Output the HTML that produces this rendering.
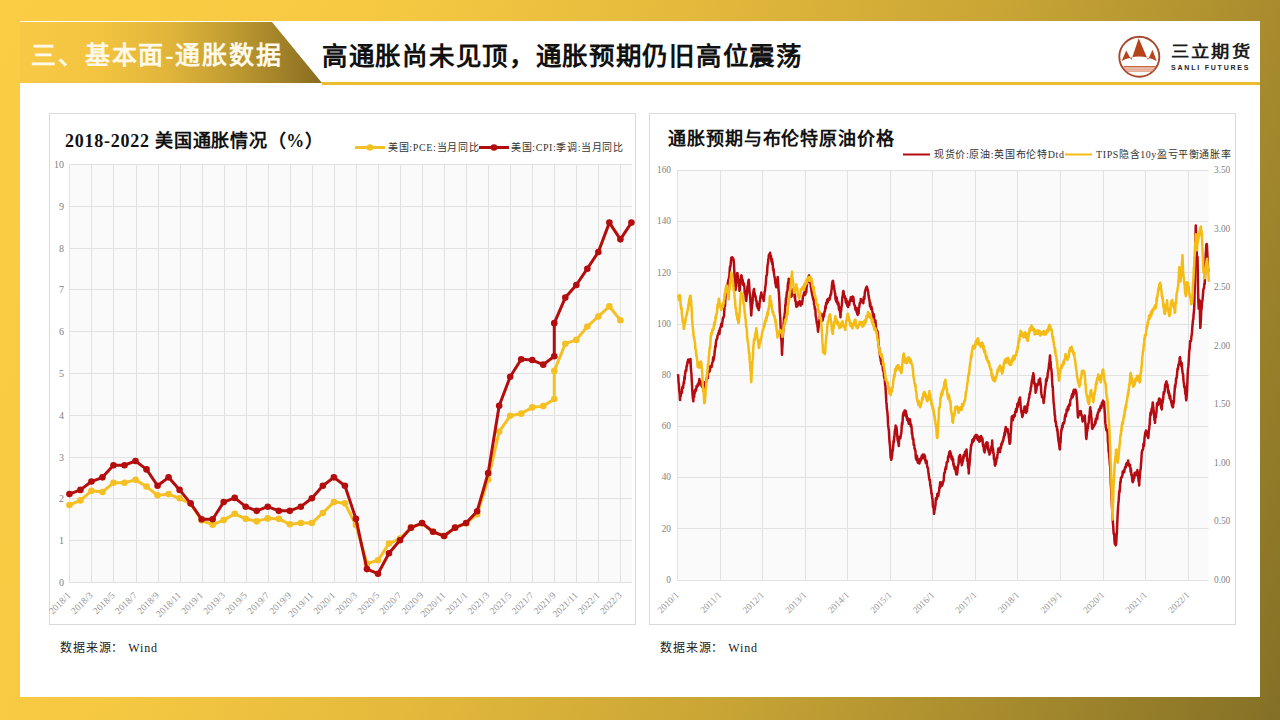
<!DOCTYPE html>
<html lang="zh-CN">
<head>
<meta charset="utf-8">
<style>
*{margin:0;padding:0;box-sizing:border-box}
html,body{width:1280px;height:720px;overflow:hidden}
body{position:relative;font-family:"Liberation Serif",serif;
 background:linear-gradient(112deg,#fbcd45 0%,#f8c942 20%,#f5c842 26%,#e4b93c 44%,#c9a535 64%,#a78b2d 82%,#847026 100%);}
#panel{position:absolute;left:20px;top:21px;width:1240px;height:676px;background:#fff}
#hdr{position:absolute;left:20px;top:22px;width:302px;height:61px;
 clip-path:polygon(0 0,252px 0,302px 61px,0 61px);
 background:linear-gradient(90deg,#f9c945 0%,#f2c43f 26.5%,#e0b43a 50%,#c09c32 70%,#a58429 85%,#876b20 100%)}
#hline{position:absolute;left:322px;top:82px;width:938px;height:3px;background:#ecbb30}
.frame{position:absolute;top:113px;width:587px;height:512px;border:1px solid #d9d9d9;background:#fff}
#f1{left:49px}
#f2{left:649px}
svg{position:absolute;left:0;top:0}
text{font-family:"Liberation Serif",serif}
</style>
</head>
<body>
<div id="panel"></div>
<div id="hdr"></div>
<div id="hline"></div>
<div class="frame" id="f1"></div>
<div class="frame" id="f2"></div>
<svg width="1280" height="720" viewBox="0 0 1280 720">
<g id="logo">
 <circle cx="1139.3" cy="56.7" r="20" fill="none" stroke="#a8482a" stroke-width="1.9"/>
 <path d="M1121.6 61 L1126.2 50.5 L1131.4 60 L1138.7 38.3 L1148 60 L1152.5 49.7 L1156.7 61 Q1139 52 1121.6 61 Z" fill="#b5441c"/>
 <rect x="1123.7" y="66" width="32" height="1.5" fill="#c8673f"/>
 <rect x="1124.5" y="68.5" width="30.5" height="1.1" fill="#d27a55"/>
 <rect x="1125.8" y="70.5" width="28" height="1.1" fill="#d27a55"/>
</g>
<g id="c1">
<rect x="69.4" y="164.5" width="562.6" height="417.9" fill="#fafafa"/>
<path d="M69.4 582.5H632 M69.4 540.5H632 M69.4 498.5H632 M69.4 457.5H632 M69.4 415.5H632 M69.4 373.5H632 M69.4 331.5H632 M69.4 289.5H632 M69.4 248.5H632 M69.4 206.5H632 M69.4 164.5H632 M69.5 164.5V582.4 M91.5 164.5V582.4 M113.5 164.5V582.4 M136.5 164.5V582.4 M158.5 164.5V582.4 M180.5 164.5V582.4 M202.5 164.5V582.4 M224.5 164.5V582.4 M246.5 164.5V582.4 M268.5 164.5V582.4 M290.5 164.5V582.4 M312.5 164.5V582.4 M334.5 164.5V582.4 M356.5 164.5V582.4 M378.5 164.5V582.4 M400.5 164.5V582.4 M422.5 164.5V582.4 M444.5 164.5V582.4 M466.5 164.5V582.4 M488.5 164.5V582.4 M510.5 164.5V582.4 M532.5 164.5V582.4 M554.5 164.5V582.4 M576.5 164.5V582.4 M598.5 164.5V582.4 M620.5 164.5V582.4" stroke="#e1e1e1" stroke-width="1" fill="none"/>
<text x="64" y="585.9" font-size="10" fill="#7f7f7f" text-anchor="end">0</text>
<text x="64" y="544.11" font-size="10" fill="#7f7f7f" text-anchor="end">1</text>
<text x="64" y="502.32" font-size="10" fill="#7f7f7f" text-anchor="end">2</text>
<text x="64" y="460.53" font-size="10" fill="#7f7f7f" text-anchor="end">3</text>
<text x="64" y="418.74" font-size="10" fill="#7f7f7f" text-anchor="end">4</text>
<text x="64" y="376.95" font-size="10" fill="#7f7f7f" text-anchor="end">5</text>
<text x="64" y="335.16" font-size="10" fill="#7f7f7f" text-anchor="end">6</text>
<text x="64" y="293.37" font-size="10" fill="#7f7f7f" text-anchor="end">7</text>
<text x="64" y="251.58" font-size="10" fill="#7f7f7f" text-anchor="end">8</text>
<text x="64" y="209.79" font-size="10" fill="#7f7f7f" text-anchor="end">9</text>
<text x="64" y="168" font-size="10" fill="#7f7f7f" text-anchor="end">10</text>
<text transform="translate(71.4,596) rotate(-45)" font-size="9.5" fill="#959595" text-anchor="end">2018/1</text>
<text transform="translate(93.44,596) rotate(-45)" font-size="9.5" fill="#959595" text-anchor="end">2018/3</text>
<text transform="translate(115.48,596) rotate(-45)" font-size="9.5" fill="#959595" text-anchor="end">2018/5</text>
<text transform="translate(137.52,596) rotate(-45)" font-size="9.5" fill="#959595" text-anchor="end">2018/7</text>
<text transform="translate(159.56,596) rotate(-45)" font-size="9.5" fill="#959595" text-anchor="end">2018/9</text>
<text transform="translate(181.6,596) rotate(-45)" font-size="9.5" fill="#959595" text-anchor="end">2018/11</text>
<text transform="translate(203.64,596) rotate(-45)" font-size="9.5" fill="#959595" text-anchor="end">2019/1</text>
<text transform="translate(225.68,596) rotate(-45)" font-size="9.5" fill="#959595" text-anchor="end">2019/3</text>
<text transform="translate(247.72,596) rotate(-45)" font-size="9.5" fill="#959595" text-anchor="end">2019/5</text>
<text transform="translate(269.76,596) rotate(-45)" font-size="9.5" fill="#959595" text-anchor="end">2019/7</text>
<text transform="translate(291.8,596) rotate(-45)" font-size="9.5" fill="#959595" text-anchor="end">2019/9</text>
<text transform="translate(313.84,596) rotate(-45)" font-size="9.5" fill="#959595" text-anchor="end">2019/11</text>
<text transform="translate(335.88,596) rotate(-45)" font-size="9.5" fill="#959595" text-anchor="end">2020/1</text>
<text transform="translate(357.92,596) rotate(-45)" font-size="9.5" fill="#959595" text-anchor="end">2020/3</text>
<text transform="translate(379.96,596) rotate(-45)" font-size="9.5" fill="#959595" text-anchor="end">2020/5</text>
<text transform="translate(402,596) rotate(-45)" font-size="9.5" fill="#959595" text-anchor="end">2020/7</text>
<text transform="translate(424.04,596) rotate(-45)" font-size="9.5" fill="#959595" text-anchor="end">2020/9</text>
<text transform="translate(446.08,596) rotate(-45)" font-size="9.5" fill="#959595" text-anchor="end">2020/11</text>
<text transform="translate(468.12,596) rotate(-45)" font-size="9.5" fill="#959595" text-anchor="end">2021/1</text>
<text transform="translate(490.16,596) rotate(-45)" font-size="9.5" fill="#959595" text-anchor="end">2021/3</text>
<text transform="translate(512.2,596) rotate(-45)" font-size="9.5" fill="#959595" text-anchor="end">2021/5</text>
<text transform="translate(534.24,596) rotate(-45)" font-size="9.5" fill="#959595" text-anchor="end">2021/7</text>
<text transform="translate(556.28,596) rotate(-45)" font-size="9.5" fill="#959595" text-anchor="end">2021/9</text>
<text transform="translate(578.32,596) rotate(-45)" font-size="9.5" fill="#959595" text-anchor="end">2021/11</text>
<text transform="translate(600.36,596) rotate(-45)" font-size="9.5" fill="#959595" text-anchor="end">2022/1</text>
<text transform="translate(622.4,596) rotate(-45)" font-size="9.5" fill="#959595" text-anchor="end">2022/3</text>
<polyline points="69.4,505 80.42,500.4 91.44,490.76 102.46,492.02 113.48,482.8 124.5,482.8 135.52,479.86 146.54,486.57 157.56,495.37 168.58,494.11 179.6,498.3 190.62,503.75 201.64,520.51 212.66,524.7 223.68,520.09 234.7,513.8 245.72,518.83 256.74,521.35 267.76,518.41 278.78,518.83 289.8,524.28 300.82,523.02 311.84,523.02 322.86,512.97 333.88,502.07 344.9,503.33 355.92,525.12 366.94,563.66 377.96,560.31 388.98,543.55 400,538.52 411.02,527.63 422.04,523.44 433.06,531.82 444.08,536.01 455.1,527.63 466.12,523.44 477.14,514.22 488.16,479.45 499.18,431.68 510.2,415.76 521.22,413.66 532.24,407.38 543.26,406.12 554.28,399 554.28,370.92 565.3,343.69 576.32,339.92 587.34,326.51 598.36,316.45 609.38,306.4 620.4,320.23" fill="none" stroke="#f4c023" stroke-width="3" stroke-linejoin="round"/>
<circle cx="69.4" cy="505" r="3.3" fill="#f4c023"/><circle cx="80.42" cy="500.4" r="3.3" fill="#f4c023"/><circle cx="91.44" cy="490.76" r="3.3" fill="#f4c023"/><circle cx="102.46" cy="492.02" r="3.3" fill="#f4c023"/><circle cx="113.48" cy="482.8" r="3.3" fill="#f4c023"/><circle cx="124.5" cy="482.8" r="3.3" fill="#f4c023"/><circle cx="135.52" cy="479.86" r="3.3" fill="#f4c023"/><circle cx="146.54" cy="486.57" r="3.3" fill="#f4c023"/><circle cx="157.56" cy="495.37" r="3.3" fill="#f4c023"/><circle cx="168.58" cy="494.11" r="3.3" fill="#f4c023"/><circle cx="179.6" cy="498.3" r="3.3" fill="#f4c023"/><circle cx="190.62" cy="503.75" r="3.3" fill="#f4c023"/><circle cx="201.64" cy="520.51" r="3.3" fill="#f4c023"/><circle cx="212.66" cy="524.7" r="3.3" fill="#f4c023"/><circle cx="223.68" cy="520.09" r="3.3" fill="#f4c023"/><circle cx="234.7" cy="513.8" r="3.3" fill="#f4c023"/><circle cx="245.72" cy="518.83" r="3.3" fill="#f4c023"/><circle cx="256.74" cy="521.35" r="3.3" fill="#f4c023"/><circle cx="267.76" cy="518.41" r="3.3" fill="#f4c023"/><circle cx="278.78" cy="518.83" r="3.3" fill="#f4c023"/><circle cx="289.8" cy="524.28" r="3.3" fill="#f4c023"/><circle cx="300.82" cy="523.02" r="3.3" fill="#f4c023"/><circle cx="311.84" cy="523.02" r="3.3" fill="#f4c023"/><circle cx="322.86" cy="512.97" r="3.3" fill="#f4c023"/><circle cx="333.88" cy="502.07" r="3.3" fill="#f4c023"/><circle cx="344.9" cy="503.33" r="3.3" fill="#f4c023"/><circle cx="355.92" cy="525.12" r="3.3" fill="#f4c023"/><circle cx="366.94" cy="563.66" r="3.3" fill="#f4c023"/><circle cx="377.96" cy="560.31" r="3.3" fill="#f4c023"/><circle cx="388.98" cy="543.55" r="3.3" fill="#f4c023"/><circle cx="400" cy="538.52" r="3.3" fill="#f4c023"/><circle cx="411.02" cy="527.63" r="3.3" fill="#f4c023"/><circle cx="422.04" cy="523.44" r="3.3" fill="#f4c023"/><circle cx="433.06" cy="531.82" r="3.3" fill="#f4c023"/><circle cx="444.08" cy="536.01" r="3.3" fill="#f4c023"/><circle cx="455.1" cy="527.63" r="3.3" fill="#f4c023"/><circle cx="466.12" cy="523.44" r="3.3" fill="#f4c023"/><circle cx="477.14" cy="514.22" r="3.3" fill="#f4c023"/><circle cx="488.16" cy="479.45" r="3.3" fill="#f4c023"/><circle cx="499.18" cy="431.68" r="3.3" fill="#f4c023"/><circle cx="510.2" cy="415.76" r="3.3" fill="#f4c023"/><circle cx="521.22" cy="413.66" r="3.3" fill="#f4c023"/><circle cx="532.24" cy="407.38" r="3.3" fill="#f4c023"/><circle cx="543.26" cy="406.12" r="3.3" fill="#f4c023"/><circle cx="554.28" cy="399" r="3.3" fill="#f4c023"/><circle cx="554.28" cy="370.92" r="3.3" fill="#f4c023"/><circle cx="565.3" cy="343.69" r="3.3" fill="#f4c023"/><circle cx="576.32" cy="339.92" r="3.3" fill="#f4c023"/><circle cx="587.34" cy="326.51" r="3.3" fill="#f4c023"/><circle cx="598.36" cy="316.45" r="3.3" fill="#f4c023"/><circle cx="609.38" cy="306.4" r="3.3" fill="#f4c023"/><circle cx="620.4" cy="320.23" r="3.3" fill="#f4c023"/>
<polyline points="69.4,494.11 80.42,489.92 91.44,481.54 102.46,477.35 113.48,465.2 124.5,465.2 135.52,461.01 146.54,469.39 157.56,485.73 168.58,477.35 179.6,489.92 190.62,503.33 201.64,519.25 212.66,519.25 223.68,502.07 234.7,497.88 245.72,506.68 256.74,510.87 267.76,506.68 278.78,510.87 289.8,510.87 300.82,506.68 311.84,498.3 322.86,485.73 333.88,477.35 344.9,485.73 355.92,518.83 366.94,569.11 377.96,573.72 388.98,553.19 400,540.2 411.02,527.63 422.04,523.02 433.06,531.82 444.08,536.01 455.1,527.63 466.12,523.02 477.14,511.29 488.16,473.16 499.18,405.7 510.2,376.79 521.22,359.19 532.24,360.03 543.26,364.64 554.28,356.26 554.28,323.16 565.3,297.6 576.32,285.03 587.34,268.69 598.36,251.93 609.38,222.6 620.4,239.36 631.42,222.6" fill="none" stroke="#b30d0d" stroke-width="3" stroke-linejoin="round"/>
<circle cx="69.4" cy="494.11" r="3.3" fill="#b30d0d"/><circle cx="80.42" cy="489.92" r="3.3" fill="#b30d0d"/><circle cx="91.44" cy="481.54" r="3.3" fill="#b30d0d"/><circle cx="102.46" cy="477.35" r="3.3" fill="#b30d0d"/><circle cx="113.48" cy="465.2" r="3.3" fill="#b30d0d"/><circle cx="124.5" cy="465.2" r="3.3" fill="#b30d0d"/><circle cx="135.52" cy="461.01" r="3.3" fill="#b30d0d"/><circle cx="146.54" cy="469.39" r="3.3" fill="#b30d0d"/><circle cx="157.56" cy="485.73" r="3.3" fill="#b30d0d"/><circle cx="168.58" cy="477.35" r="3.3" fill="#b30d0d"/><circle cx="179.6" cy="489.92" r="3.3" fill="#b30d0d"/><circle cx="190.62" cy="503.33" r="3.3" fill="#b30d0d"/><circle cx="201.64" cy="519.25" r="3.3" fill="#b30d0d"/><circle cx="212.66" cy="519.25" r="3.3" fill="#b30d0d"/><circle cx="223.68" cy="502.07" r="3.3" fill="#b30d0d"/><circle cx="234.7" cy="497.88" r="3.3" fill="#b30d0d"/><circle cx="245.72" cy="506.68" r="3.3" fill="#b30d0d"/><circle cx="256.74" cy="510.87" r="3.3" fill="#b30d0d"/><circle cx="267.76" cy="506.68" r="3.3" fill="#b30d0d"/><circle cx="278.78" cy="510.87" r="3.3" fill="#b30d0d"/><circle cx="289.8" cy="510.87" r="3.3" fill="#b30d0d"/><circle cx="300.82" cy="506.68" r="3.3" fill="#b30d0d"/><circle cx="311.84" cy="498.3" r="3.3" fill="#b30d0d"/><circle cx="322.86" cy="485.73" r="3.3" fill="#b30d0d"/><circle cx="333.88" cy="477.35" r="3.3" fill="#b30d0d"/><circle cx="344.9" cy="485.73" r="3.3" fill="#b30d0d"/><circle cx="355.92" cy="518.83" r="3.3" fill="#b30d0d"/><circle cx="366.94" cy="569.11" r="3.3" fill="#b30d0d"/><circle cx="377.96" cy="573.72" r="3.3" fill="#b30d0d"/><circle cx="388.98" cy="553.19" r="3.3" fill="#b30d0d"/><circle cx="400" cy="540.2" r="3.3" fill="#b30d0d"/><circle cx="411.02" cy="527.63" r="3.3" fill="#b30d0d"/><circle cx="422.04" cy="523.02" r="3.3" fill="#b30d0d"/><circle cx="433.06" cy="531.82" r="3.3" fill="#b30d0d"/><circle cx="444.08" cy="536.01" r="3.3" fill="#b30d0d"/><circle cx="455.1" cy="527.63" r="3.3" fill="#b30d0d"/><circle cx="466.12" cy="523.02" r="3.3" fill="#b30d0d"/><circle cx="477.14" cy="511.29" r="3.3" fill="#b30d0d"/><circle cx="488.16" cy="473.16" r="3.3" fill="#b30d0d"/><circle cx="499.18" cy="405.7" r="3.3" fill="#b30d0d"/><circle cx="510.2" cy="376.79" r="3.3" fill="#b30d0d"/><circle cx="521.22" cy="359.19" r="3.3" fill="#b30d0d"/><circle cx="532.24" cy="360.03" r="3.3" fill="#b30d0d"/><circle cx="543.26" cy="364.64" r="3.3" fill="#b30d0d"/><circle cx="554.28" cy="356.26" r="3.3" fill="#b30d0d"/><circle cx="554.28" cy="323.16" r="3.3" fill="#b30d0d"/><circle cx="565.3" cy="297.6" r="3.3" fill="#b30d0d"/><circle cx="576.32" cy="285.03" r="3.3" fill="#b30d0d"/><circle cx="587.34" cy="268.69" r="3.3" fill="#b30d0d"/><circle cx="598.36" cy="251.93" r="3.3" fill="#b30d0d"/><circle cx="609.38" cy="222.6" r="3.3" fill="#b30d0d"/><circle cx="620.4" cy="239.36" r="3.3" fill="#b30d0d"/><circle cx="631.42" cy="222.6" r="3.3" fill="#b30d0d"/>
</g>
<g id="c2">
<rect x="677.5" y="170" width="531" height="409.5" fill="#fafafa"/>
<path d="M677.5 580.5H1208.5 M677.5 528.5H1208.5 M677.5 477.5H1208.5 M677.5 426.5H1208.5 M677.5 375.5H1208.5 M677.5 324.5H1208.5 M677.5 272.5H1208.5 M677.5 221.5H1208.5 M677.5 170.5H1208.5 M677.5 170V579.5 M720.5 170V579.5 M762.5 170V579.5 M805.5 170V579.5 M847.5 170V579.5 M890.5 170V579.5 M932.5 170V579.5 M975.5 170V579.5 M1017.5 170V579.5 M1060.5 170V579.5 M1103.5 170V579.5 M1145.5 170V579.5 M1188.5 170V579.5" stroke="#e1e1e1" stroke-width="1" fill="none"/>
<text x="671" y="582.8" font-size="9.3" fill="#7f7f7f" text-anchor="end">0</text>
<text x="671" y="531.61" font-size="9.3" fill="#7f7f7f" text-anchor="end">20</text>
<text x="671" y="480.43" font-size="9.3" fill="#7f7f7f" text-anchor="end">40</text>
<text x="671" y="429.24" font-size="9.3" fill="#7f7f7f" text-anchor="end">60</text>
<text x="671" y="378.05" font-size="9.3" fill="#7f7f7f" text-anchor="end">80</text>
<text x="671" y="326.86" font-size="9.3" fill="#7f7f7f" text-anchor="end">100</text>
<text x="671" y="275.68" font-size="9.3" fill="#7f7f7f" text-anchor="end">120</text>
<text x="671" y="224.49" font-size="9.3" fill="#7f7f7f" text-anchor="end">140</text>
<text x="671" y="173.3" font-size="9.3" fill="#7f7f7f" text-anchor="end">160</text>
<text x="1214" y="582.8" font-size="9.3" fill="#7f7f7f">0.00</text>
<text x="1214" y="524.3" font-size="9.3" fill="#7f7f7f">0.50</text>
<text x="1214" y="465.8" font-size="9.3" fill="#7f7f7f">1.00</text>
<text x="1214" y="407.3" font-size="9.3" fill="#7f7f7f">1.50</text>
<text x="1214" y="348.8" font-size="9.3" fill="#7f7f7f">2.00</text>
<text x="1214" y="290.3" font-size="9.3" fill="#7f7f7f">2.50</text>
<text x="1214" y="231.8" font-size="9.3" fill="#7f7f7f">3.00</text>
<text x="1214" y="173.3" font-size="9.3" fill="#7f7f7f">3.50</text>
<polyline points="678,374.08 678.29,376.76 678.57,382.93 678.86,383.49 679.14,389.47 679.43,392.16 679.71,394.13 680,400.04 680.31,396.14 680.62,396.74 680.94,393.39 681.25,392.04 681.56,392.32 681.88,392.95 682.19,387.84 682.5,386.89 682.81,387.54 683.12,387.74 683.44,384.36 683.75,381.96 684.06,383.31 684.38,376.81 684.69,379.36 685,374.74 685.31,372.32 685.62,370.51 685.94,369.84 686.25,370.81 686.56,365.84 686.88,366.26 687.19,364.89 687.5,361.84 687.8,362.5 688.1,359.73 688.4,359.46 688.7,359.97 689,362.19 689.3,360.62 689.6,359.78 689.9,360.94 690.2,360.01 690.5,358.96 690.81,366.53 691.12,371.03 691.44,373.67 691.75,380.39 692.06,385.13 692.38,391.95 692.69,396.19 693,398.9 693.3,401.36 693.59,395.74 693.89,396.17 694.18,396.79 694.48,392.51 694.77,393.12 695.07,389.65 695.36,391.78 695.66,391.15 695.95,389.02 696.25,389.45 696.56,385.91 696.88,387.27 697.19,386.12 697.5,385.42 697.81,384.15 698.12,385.52 698.44,385.44 698.75,382.37 699.06,382.73 699.38,378.97 699.69,381.67 700,380.77 700.3,383.56 700.6,383.67 700.9,381.88 701.2,383.41 701.5,385.88 701.8,383.52 702.1,386.8 702.4,386.27 702.7,387.01 703,387.71 703.3,390.49 703.59,386.25 703.89,385.96 704.18,385.8 704.48,387.39 704.77,382.36 705.07,383.37 705.36,382.98 705.66,383.81 705.95,382.57 706.25,381.89 706.56,378.01 706.88,377.89 707.19,376.77 707.5,378.66 707.81,378.21 708.12,373.18 708.44,372.48 708.75,371.94 709.06,371.11 709.38,371.59 709.69,371.3 710,368.77 710.31,366.38 710.62,367.5 710.94,366.2 711.25,366.18 711.56,367.15 711.88,364.74 712.19,362.79 712.5,362.28 712.81,361.54 713.12,357.26 713.44,360.62 713.75,358.96 714.06,357.57 714.38,355.3 714.69,351.32 715,349.47 715.31,346.06 715.62,346.95 715.94,342.1 716.25,340.25 716.56,339.94 716.88,338.66 717.19,338.54 717.5,336.01 717.81,334.69 718.12,334.44 718.44,333.14 718.75,333.46 719.06,330.66 719.38,334.03 719.69,331.63 720,328.17 720.31,327.67 720.62,327.12 720.94,326.17 721.25,323.87 721.56,326.61 721.88,326.31 722.19,322.53 722.5,321.58 722.81,318.47 723.12,317.51 723.44,317.72 723.75,316.28 724.06,315.77 724.38,308.86 724.69,304.71 725,306.1 725.31,300.46 725.62,295.04 725.94,293.66 726.25,287.54 726.56,288.9 726.88,289.99 727.19,288.14 727.5,286.02 727.81,282.51 728.12,281.81 728.44,279.52 728.75,281.41 729.06,277.2 729.38,275.51 729.69,270.21 730,266.68 730.31,266.78 730.62,264.71 730.94,261.05 731.25,257.84 731.56,258.69 731.88,259.06 732.19,257.17 732.5,259.47 732.81,259.41 733.12,258.49 733.44,259.26 733.75,261.35 734.04,265.41 734.33,271.83 734.62,277.37 734.92,278.89 735.21,285.61 735.5,290.04 735.79,287.72 736.07,282.51 736.36,279.62 736.64,277.51 736.93,275.21 737.21,273.11 737.5,273.15 737.79,277.08 738.07,279.27 738.36,279.89 738.64,283.3 738.93,286.56 739.21,285.34 739.5,290.84 739.79,289.63 740.08,286.47 740.38,283.8 740.67,279.89 740.96,275.83 741.25,276.5 741.56,275.38 741.88,279.06 742.19,281.2 742.5,279.46 742.81,280.74 743.12,284.82 743.44,284.92 743.75,283.28 744.06,284.94 744.38,286.94 744.69,292.73 745,294.09 745.31,292.54 745.62,297.95 745.94,300.62 746.25,300.82 746.56,296.41 746.88,294.63 747.19,289.64 747.5,286.22 747.81,288.39 748.12,283.9 748.44,280.45 748.75,279.75 749.06,281.84 749.38,288.81 749.69,293.26 750,294.75 750.31,299.65 750.62,304.55 750.94,308.96 751.25,315.45 751.56,310.31 751.88,307.7 752.19,302.77 752.5,303.38 752.81,297.05 753.12,294.16 753.44,291.37 753.75,289.6 754.06,288.96 754.38,293.42 754.69,293.13 755,295.17 755.31,297 755.62,296.25 755.94,300.31 756.25,300.85 756.56,300.86 756.88,305.93 757.19,303.61 757.5,306.11 757.81,308.36 758.12,308.42 758.44,308.16 758.75,310.1 759.06,308.1 759.38,307.1 759.69,301.39 760,301.56 760.31,297.75 760.62,295.71 760.94,296.1 761.25,292.54 761.56,293.76 761.88,295.73 762.19,297.46 762.5,295.95 762.81,297.77 763.12,298.15 763.44,299.13 763.75,301 764.06,296.94 764.38,294.55 764.69,291.45 765,291.05 765.31,286.97 765.62,285.08 765.94,282.61 766.25,276.25 766.55,275.54 766.84,275.26 767.14,272.45 767.43,266.52 767.73,264.17 768.02,263.56 768.32,259.37 768.61,257.97 768.91,254.83 769.2,255.65 769.5,253.98 769.8,255.56 770.1,252.7 770.4,256.62 770.7,257.33 771,255.64 771.3,260.49 771.6,261.93 771.9,259.04 772.2,263.85 772.5,261.97 772.79,264.58 773.07,269.33 773.36,270.66 773.64,269.31 773.93,272.86 774.21,275.44 774.5,276.66 774.79,277.58 775.08,279.89 775.38,283.66 775.67,281.67 775.96,286.11 776.25,287.19 776.54,283.33 776.83,283.29 777.12,283.14 777.42,280.9 777.71,276.9 778,280.02 778.29,284.36 778.57,290.67 778.86,291.52 779.14,297.71 779.43,301.89 779.71,311.09 780,313.81 780.29,318.43 780.57,325.31 780.86,333.21 781.14,338.09 781.43,340.53 781.71,345.32 782,354.68 782.29,347.87 782.58,343.54 782.88,335.37 783.17,330.2 783.46,328.48 783.75,322.11 784.06,317.15 784.38,318.53 784.69,313.82 785,311.57 785.31,304.71 785.62,305.6 785.94,298.37 786.25,299.39 786.56,295.07 786.88,292.29 787.19,291.21 787.5,290.97 787.81,285.36 788.12,282.45 788.44,282.33 788.75,278.64 789.06,280.16 789.38,282.61 789.69,284.22 790,287.2 790.31,289.96 790.62,292.11 790.94,296.66 791.25,296.41 791.56,296.56 791.88,293.95 792.19,293.89 792.5,291.24 792.81,291.51 793.12,289.35 793.44,292.15 793.75,290.27 794.06,290.26 794.38,293.62 794.69,297.89 795,295.45 795.31,301.03 795.62,300.9 795.94,303.1 796.25,306.74 796.56,304.13 796.88,304.41 797.19,305.04 797.5,306.26 797.81,302.62 798.12,304.85 798.44,303.89 798.75,303.21 799.06,302.32 799.38,302.33 799.69,301.12 800,301.83 800.31,301.83 800.62,305.63 800.94,303.42 801.25,303.25 801.56,301.59 801.88,304.27 802.19,303.18 802.5,300.89 802.81,297.62 803.12,296.16 803.44,295.17 803.75,294.79 804.06,292.59 804.38,293.47 804.69,291.89 805,294.9 805.31,294.33 805.62,291.49 805.94,289.3 806.25,292.42 806.56,287.29 806.88,285.82 807.19,282.25 807.5,282.51 807.81,281.27 808.12,279.7 808.44,276.41 808.75,276.27 809.06,275.39 809.38,278.46 809.69,279.27 810,282.6 810.31,282.46 810.62,284.08 810.94,287.26 811.25,288.61 811.56,291.7 811.88,292.65 812.19,295.05 812.5,295.82 812.81,297.37 813.12,299.47 813.44,298.18 813.75,299.1 814.06,304.71 814.38,302.55 814.69,307.73 815,309.49 815.31,308.57 815.62,314.87 815.94,317.35 816.25,318.16 816.54,320.8 816.83,323.29 817.12,321.87 817.42,325.96 817.71,327.94 818,331.74 818.29,329.44 818.57,327.41 818.86,324.01 819.14,323.47 819.43,320.24 819.71,318.15 820,313.6 820.31,313.19 820.62,314.34 820.94,316.15 821.25,315.45 821.56,319.87 821.88,319.05 822.19,320.04 822.5,320.66 822.81,319.69 823.12,317.44 823.44,313.67 823.75,316.55 824.06,315.04 824.38,312.52 824.69,311.43 825,310.83 825.31,306.49 825.62,308.73 825.94,304.96 826.25,302.79 826.56,302.53 826.88,303.69 827.19,299.72 827.5,301.25 827.8,302.22 828.1,299.47 828.4,298.64 828.7,298.89 829,299.71 829.3,299.89 829.6,298.86 829.9,298.74 830.2,295.55 830.5,295.67 830.81,294.03 831.12,294.39 831.44,289.92 831.75,289.1 832.06,284.03 832.38,282.09 832.69,280.99 833,280.89 833.31,283.19 833.62,285.29 833.94,285.47 834.25,288.84 834.56,290.75 834.88,292.95 835.19,293.33 835.5,299.55 835.81,296.56 836.12,301.24 836.44,301.64 836.75,297.49 837.06,300.41 837.38,302.91 837.69,304.31 838,302.24 838.31,302.86 838.62,304.12 838.94,309.5 839.25,307.25 839.56,310.74 839.88,310.01 840.19,313.56 840.5,317.35 840.81,310.28 841.12,311.04 841.44,306.61 841.75,305.76 842.06,301.99 842.38,296.73 842.69,297.38 843,292.43 843.31,290.97 843.62,291.79 843.94,295.27 844.25,295.99 844.56,296.16 844.88,296.26 845.19,298.25 845.5,299.04 845.81,302.39 846.12,298.66 846.44,303.18 846.75,304.26 847.06,301.15 847.38,305.97 847.69,305.48 848,307.09 848.31,303.28 848.62,303.09 848.94,302.57 849.25,305.09 849.56,302.34 849.88,300.53 850.19,300.25 850.5,298.83 850.81,297.34 851.12,297.3 851.44,300.8 851.75,297.64 852.06,300.7 852.38,296.82 852.69,296.59 853,297.56 853.31,297.14 853.62,299.34 853.94,303.62 854.25,304.5 854.56,305.37 854.88,305.68 855.19,308.4 855.5,309.79 855.81,308.69 856.12,310.52 856.44,307.97 856.75,312.46 857.06,311.93 857.38,314.44 857.69,314.81 858,313.89 858.31,310.78 858.62,313.47 858.94,307.44 859.25,307.36 859.56,304.81 859.88,302.7 860.19,303.12 860.5,302.48 860.81,299.07 861.12,301.44 861.44,299.9 861.75,301.55 862.06,301.01 862.38,300.15 862.69,300.43 863,300.98 863.29,303.3 863.57,299.86 863.86,297.1 864.14,299.36 864.43,298.51 864.71,294.35 865,291.43 865.29,290.79 865.58,289.35 865.86,289.74 866.15,287.52 866.44,287.38 866.72,286.57 867.01,287.27 867.3,288.01 867.6,289.58 867.9,290.12 868.2,292.41 868.5,295.27 868.8,296.79 869.1,298.87 869.4,299.72 869.69,301.7 869.97,306.15 870.26,302.63 870.54,305.45 870.83,306.96 871.11,309.03 871.4,306.52 871.69,307.88 871.98,308.84 872.26,310.7 872.55,312.02 872.84,315.74 873.12,316.26 873.41,317.46 873.7,314.11 873.99,315.27 874.28,319.89 874.56,321.96 874.85,320.86 875.14,322.55 875.42,320.6 875.71,323.74 876,327.62 876.3,328.75 876.6,330.56 876.9,332.83 877.2,330.72 877.5,331.65 877.8,333.55 878.1,337.12 878.4,340.88 878.7,345.15 879,346.94 879.3,349.48 879.6,353.02 879.9,354.35 880.2,357.77 880.49,356.19 880.78,361.14 881.06,359.37 881.35,364.03 881.64,363.69 881.92,363 882.21,363.18 882.5,364.91 882.79,368.73 883.08,370.88 883.36,369.66 883.65,371.27 883.94,375.45 884.22,377.58 884.51,378.39 884.8,379.36 885.1,385.07 885.4,385.74 885.7,391 886,395.57 886.3,401.9 886.6,404.01 886.9,409 887.19,410.63 887.47,413.14 887.76,416.96 888.04,424.42 888.33,426.85 888.61,428.54 888.9,430.81 889.19,436.93 889.48,441.48 889.76,443.8 890.05,446.59 890.34,452.36 890.62,457.34 890.91,457.34 891.2,459.98 891.5,459.01 891.8,456.89 892.1,455.7 892.4,450.63 892.7,451.19 893,448.34 893.3,444.58 893.6,440.47 893.89,442.26 894.17,436.65 894.46,437.1 894.75,431.85 895.04,429.61 895.33,430.23 895.61,425.62 895.9,426.85 896.19,426.76 896.48,427.43 896.77,429.89 897.06,433.18 897.34,436.75 897.63,440.5 897.92,438.61 898.21,442.17 898.5,443.51 898.8,446 899.1,440.21 899.4,438.28 899.7,436.86 900,437.13 900.3,438.3 900.6,436.76 900.9,434.51 901.19,433.63 901.48,431.03 901.77,425.65 902.06,422.64 902.34,424.29 902.63,421.05 902.92,415.08 903.21,416.11 903.5,412.37 903.79,412.34 904.08,412.12 904.36,411.28 904.65,410.41 904.94,411.85 905.22,412.23 905.51,415.37 905.8,411.04 906.09,416.49 906.38,413.63 906.66,415.48 906.95,418.97 907.24,420.05 907.52,419.1 907.81,418.18 908.1,421.46 908.4,420.94 908.7,423.78 909,420 909.3,420.89 909.6,423.66 909.9,419.16 910.2,421.14 910.49,424.96 910.78,426.47 911.07,424.43 911.36,426.14 911.65,428.03 911.94,434.22 912.23,432.52 912.52,436.81 912.81,439.33 913.1,438.16 913.39,439.58 913.68,444.9 913.97,444.89 914.26,444.8 914.55,448.93 914.84,448.61 915.13,450.15 915.42,450.5 915.71,456.17 916,458.77 916.29,457.88 916.58,460.06 916.87,455.87 917.16,457.54 917.45,459.37 917.74,462.46 918.03,463.02 918.32,460.65 918.61,460.53 918.9,462.04 919.2,461.79 919.5,463.47 919.8,459.01 920.1,461.65 920.4,460.74 920.7,460.6 921,459.76 921.3,458.32 921.6,456.28 921.9,455.66 922.21,455.94 922.52,458.19 922.83,454.59 923.14,455.27 923.45,458.22 923.76,455.65 924.07,454.76 924.38,454.66 924.69,457.41 925,456.29 925.29,460.8 925.58,461.39 925.86,463.04 926.15,460.38 926.44,460.54 926.72,461.7 927.01,464.89 927.3,467.09 927.6,467.4 927.9,467.96 928.2,470.58 928.5,473.31 928.8,475.26 929.1,477.32 929.4,479.5 929.69,480.64 929.97,479.9 930.26,485.73 930.54,484.97 930.83,488.48 931.11,489.55 931.4,493.54 931.7,493.17 932,495.85 932.3,498.28 932.6,500.23 932.9,506.46 933.2,507.31 933.48,507.45 933.75,509.26 934.02,513.81 934.3,512.74 934.6,508.87 934.9,509.44 935.2,506.2 935.5,505.52 935.8,498.47 936.1,497.97 936.39,499.35 936.67,499.04 936.96,499.01 937.24,494.05 937.53,494.96 937.81,493.63 938.1,493.59 938.4,495.99 938.7,492.29 939,492.42 939.3,487.85 939.6,488.75 939.9,484.91 940.2,482.25 940.49,485.31 940.78,486.54 941.06,482.54 941.35,485.45 941.64,485.94 941.92,484.21 942.21,485.35 942.5,484.54 942.8,483.04 943.1,481.48 943.4,481.44 943.7,479.89 944,475.73 944.3,472.91 944.6,472.73 944.9,472.73 945.19,469.06 945.48,468.62 945.76,466.96 946.05,468.94 946.34,466.55 946.62,462.93 946.91,462.03 947.2,462.46 947.49,461.97 947.78,461.15 948.07,457.01 948.36,456.1 948.64,457.57 948.93,454.8 949.22,452.85 949.51,451.69 949.8,453.76 950.1,451.25 950.4,453.4 950.7,453.14 951,454.28 951.3,457.44 951.6,458.95 951.9,456.49 952.19,456.73 952.48,460.59 952.76,458.96 953.05,459.03 953.34,464.79 953.62,463.4 953.91,466.57 954.2,465.51 954.49,468.86 954.78,467.54 955.07,466.86 955.36,466.96 955.65,470.62 955.94,471.95 956.23,474.22 956.52,470.82 956.81,474.47 957.1,474.03 957.4,472.17 957.7,467.76 958,465.92 958.3,464.61 958.6,464.16 958.9,457.37 959.2,456.8 959.5,455.89 959.79,457.82 960.08,454.9 960.36,455.62 960.65,460.95 960.94,462.21 961.22,460.74 961.51,459.59 961.8,465.22 962.09,461.45 962.38,463.17 962.67,460.73 962.96,460.82 963.24,456.4 963.53,458.69 963.82,454.79 964.11,454.77 964.4,456.1 964.7,455.6 965,451.82 965.3,451.59 965.6,452.12 965.9,452.32 966.2,451.21 966.5,449.44 966.79,452.63 967.08,457.67 967.36,461.12 967.65,459.21 967.94,464.47 968.22,468.04 968.51,466.85 968.8,473.56 969.09,466.52 969.38,465.74 969.66,462.2 969.95,459.31 970.24,454.35 970.52,451.66 970.81,449.22 971.1,445.11 971.4,445.6 971.7,443.77 972,443 972.3,440.12 972.6,442.49 972.9,441.1 973.2,439.05 973.5,441.07 973.79,440.83 974.08,438.84 974.37,437.07 974.66,438.27 974.94,436.05 975.23,435.83 975.52,437.08 975.81,435 976.1,436.5 976.39,437.14 976.68,434.99 976.97,438.38 977.26,435.79 977.55,439.46 977.84,439.98 978.13,438.89 978.42,436.8 978.71,439.43 979,439.06 979.29,441.75 979.58,437.23 979.87,440.69 980.16,441.12 980.45,439.46 980.74,439.6 981.03,436.08 981.32,439.88 981.61,437.05 981.9,439.17 982.2,440.79 982.5,438.71 982.8,443.77 983.1,446.34 983.4,443.67 983.7,446.97 984,450.91 984.3,449.63 984.59,452.48 984.88,448.27 985.17,450.11 985.46,445.64 985.74,446.52 986.03,447.72 986.32,443.04 986.61,442.34 986.9,442.63 987.19,442.83 987.48,442.53 987.77,444.46 988.06,445.52 988.35,450.72 988.64,450.55 988.93,452.85 989.22,450.24 989.51,454.61 989.8,452.3 990.1,453 990.4,452.08 990.7,449.18 991,450.39 991.3,447.27 991.6,445.94 991.9,446.05 992.2,440.54 992.49,447.5 992.78,447.95 993.07,449.07 993.36,453.51 993.65,453.08 993.94,459.19 994.23,459.38 994.52,460.59 994.81,465.04 995.1,465.7 995.39,462.86 995.68,464.35 995.97,459.27 996.26,461.82 996.55,457.42 996.84,457.96 997.13,458.3 997.42,454.77 997.71,453.71 998,450.43 998.29,448.61 998.57,448.58 998.86,448.98 999.14,451.2 999.43,450.05 999.71,450.27 1000,452.06 1000.31,447.29 1000.63,446.98 1000.94,448.4 1001.26,444.32 1001.57,443.41 1001.89,444.45 1002.2,442.35 1002.49,442.46 1002.77,440.57 1003.06,441.23 1003.34,440.06 1003.63,436.86 1003.91,437.84 1004.2,435.87 1004.52,432.73 1004.83,435.54 1005.15,430.57 1005.47,428.71 1005.78,427.06 1006.1,428.52 1006.41,430.52 1006.73,430.84 1007.04,429.65 1007.36,429.72 1007.67,429.19 1007.99,433.27 1008.3,433.62 1008.58,434.37 1008.87,437.76 1009.15,438.56 1009.43,442.97 1009.72,443.76 1010,443.09 1010.28,442.33 1010.57,433.7 1010.85,432.06 1011.13,427.24 1011.42,422.2 1011.7,417.1 1012.01,420.46 1012.33,416.09 1012.64,418.51 1012.96,420.15 1013.27,415.61 1013.59,415.52 1013.9,417.26 1014.21,415.94 1014.53,415.84 1014.84,415.93 1015.16,411.81 1015.47,411.71 1015.79,410.86 1016.1,408.75 1016.41,411.94 1016.73,410.2 1017.04,408.66 1017.36,403.79 1017.67,406.96 1017.99,405.26 1018.3,402.62 1018.58,403.59 1018.87,401.62 1019.15,399.97 1019.43,398.88 1019.72,399.07 1020,397.6 1020.31,401.53 1020.63,406.07 1020.94,408.17 1021.26,411.34 1021.57,413.03 1021.89,413.1 1022.2,416.98 1022.51,415.17 1022.83,415.8 1023.14,413.22 1023.46,410.68 1023.77,411.44 1024.09,411.92 1024.4,406.83 1024.69,410.63 1024.98,406.48 1025.26,408.1 1025.55,408.33 1025.84,411.32 1026.12,412.71 1026.41,412.03 1026.7,410.2 1027.01,411.09 1027.33,406.24 1027.64,403.79 1027.96,405.28 1028.27,401.85 1028.59,400.19 1028.9,398.06 1029.21,398.11 1029.53,393.87 1029.84,394.21 1030.16,391.88 1030.47,391.13 1030.79,387.36 1031.1,387.27 1031.41,384.88 1031.73,381.93 1032.04,379.85 1032.36,380.39 1032.67,375.98 1032.99,378.72 1033.3,373.15 1033.59,374.63 1033.88,377.13 1034.16,383.49 1034.45,382.54 1034.74,383.58 1035.02,385.07 1035.31,387.23 1035.6,392.7 1035.91,391.2 1036.23,390.32 1036.54,389.33 1036.86,384.64 1037.17,386.17 1037.49,383.79 1037.8,384.95 1038.11,384.58 1038.43,384.56 1038.74,379.89 1039.06,383.67 1039.37,383.53 1039.69,383.3 1040,378.56 1040.28,381.37 1040.57,383.18 1040.85,385.08 1041.13,391.61 1041.42,393.72 1041.7,395.1 1042.01,397.29 1042.33,397.48 1042.64,396.89 1042.96,397.12 1043.27,398.31 1043.59,402.94 1043.9,401.27 1044.21,398.69 1044.53,396.06 1044.84,390.79 1045.16,388.85 1045.47,385.81 1045.79,384.89 1046.1,379.91 1046.38,378.73 1046.67,381.15 1046.95,377.82 1047.23,378.69 1047.52,376.55 1047.8,372.56 1048.11,371.96 1048.43,369.5 1048.74,368.66 1049.06,363.86 1049.37,363.14 1049.69,359.68 1050,355.43 1050.31,362.17 1050.63,361.54 1050.94,368.72 1051.26,368.73 1051.57,371.24 1051.89,375.66 1052.2,381.96 1052.48,387.25 1052.77,386.36 1053.05,393.05 1053.33,397.22 1053.62,402.98 1053.9,403.96 1054.18,408.34 1054.47,410.34 1054.75,415.63 1055.03,415.42 1055.32,421.74 1055.6,421.08 1055.91,422.3 1056.23,426.41 1056.54,426.95 1056.86,426.51 1057.17,430.84 1057.49,429.53 1057.8,434.8 1058.12,437.11 1058.43,440.36 1058.75,442.32 1059.07,443.68 1059.38,446.7 1059.7,449.45 1059.99,448.86 1060.27,441.51 1060.56,442.51 1060.84,434.85 1061.13,432.61 1061.41,429.74 1061.7,429.89 1062.01,427.01 1062.33,425.57 1062.64,427.4 1062.96,423.21 1063.27,423.6 1063.59,423.16 1063.9,423.52 1064.21,422.28 1064.52,420.49 1064.83,417.71 1065.14,416.37 1065.46,414.24 1065.77,416.58 1066.08,414.41 1066.39,413.59 1066.7,409.38 1067,410.17 1067.3,411.3 1067.6,409.68 1067.9,406.71 1068.2,407.85 1068.5,409.44 1068.8,405.46 1069.1,404.61 1069.4,404.57 1069.69,405.61 1069.98,405.29 1070.26,400.65 1070.55,399.61 1070.84,399.04 1071.12,398.4 1071.41,398.37 1071.7,395.44 1072.01,395.52 1072.33,394.01 1072.64,397.31 1072.96,395.25 1073.27,391.2 1073.59,394.89 1073.9,389.63 1074.18,390.42 1074.45,392.87 1074.72,391.21 1075,390.21 1075.3,389.86 1075.6,389.82 1075.9,393.32 1076.2,391.76 1076.5,393.47 1076.8,398.72 1077.1,401.18 1077.4,407.37 1077.7,413.71 1078,417.51 1078.31,415.73 1078.62,415.64 1078.94,413.98 1079.25,411.54 1079.56,413.16 1079.88,411.35 1080.19,412.33 1080.5,412.42 1080.8,411.25 1081.1,413.31 1081.4,415.54 1081.7,415.15 1082,415.46 1082.3,419.34 1082.6,421.48 1082.91,420.5 1083.23,419.68 1083.54,420.05 1083.86,418.72 1084.17,418.09 1084.49,416.69 1084.8,415.53 1085.1,421.45 1085.4,422.97 1085.7,428.92 1086,435.09 1086.3,439.01 1086.61,436.39 1086.93,432.23 1087.24,430.95 1087.56,428.92 1087.87,427.6 1088.19,424.31 1088.5,423.51 1088.8,422.29 1089.1,415.85 1089.4,415.75 1089.7,413.85 1090,409.27 1090.3,407.25 1090.6,412.83 1090.9,411.01 1091.2,416.7 1091.5,417.76 1091.8,424.05 1092.1,427.93 1092.4,428.8 1092.71,425.86 1093.03,427.56 1093.34,426.63 1093.65,426.78 1093.96,424.95 1094.28,424.85 1094.59,425.07 1094.9,422.71 1095.2,421.37 1095.5,423.4 1095.8,418.8 1096.1,420.51 1096.4,418.23 1096.7,419.39 1097,415.3 1097.3,419.02 1097.61,414.86 1097.93,412.42 1098.24,412.67 1098.56,412.44 1098.87,409.54 1099.19,410.76 1099.5,409.89 1099.8,410.57 1100.1,408.01 1100.4,406.79 1100.7,405.82 1101,407.74 1101.3,408.01 1101.6,405.1 1101.9,402.74 1102.2,405.34 1102.5,402.78 1102.8,401.42 1103.1,400.56 1103.4,403.5 1103.7,403.24 1104,401.9 1104.32,405.92 1104.64,411.28 1104.96,414.42 1105.28,423.13 1105.6,424.84 1105.9,427.34 1106.2,429.29 1106.5,430.29 1106.8,429.5 1107.1,429.61 1107.4,431.95 1107.7,434.33 1108,442.59 1108.3,444.67 1108.6,451.82 1108.92,452.47 1109.24,456.72 1109.56,459.76 1109.88,464.34 1110.2,466.77 1110.5,472.53 1110.8,482.99 1111.1,487.42 1111.4,493.95 1111.7,500.97 1112,506.79 1112.3,511.43 1112.6,517.41 1112.9,522.43 1113.2,525.78 1113.52,531.79 1113.84,534.46 1114.16,533.38 1114.48,540.45 1114.8,543.91 1115.1,543.9 1115.4,541.17 1115.7,545.38 1116,544.97 1116.3,542.38 1116.6,535.23 1116.9,532.98 1117.2,524.31 1117.5,517.3 1117.8,511.63 1118.1,506.94 1118.4,502.51 1118.7,500.44 1119.01,495.14 1119.33,491.08 1119.64,491.93 1119.96,488.29 1120.27,481.99 1120.59,482.69 1120.9,478.16 1121.2,478.3 1121.5,476.95 1121.8,477.36 1122.1,476.05 1122.4,475.55 1122.7,471.45 1123,473.27 1123.3,471.66 1123.61,472.32 1123.93,470.29 1124.24,472.16 1124.56,470.01 1124.87,468.06 1125.19,467.46 1125.5,466.52 1125.8,467.49 1126.1,464.36 1126.4,465.61 1126.7,463.07 1127,464 1127.3,463.16 1127.6,462.51 1127.9,464.57 1128.2,460.51 1128.5,465.23 1128.8,463.68 1129.1,464.56 1129.4,465.48 1129.7,466.78 1130,464.75 1130.31,466.89 1130.62,471.62 1130.94,468.93 1131.25,473.76 1131.56,475.67 1131.88,474.42 1132.19,479.36 1132.5,481.65 1132.8,482.18 1133.1,478.29 1133.4,480.92 1133.7,477.71 1134,476.81 1134.3,478.19 1134.6,472.94 1134.9,475.73 1135.21,474.86 1135.53,472.99 1135.84,475.32 1136.15,472.35 1136.46,472.53 1136.78,472.41 1137.09,473.29 1137.4,470 1137.7,473.2 1138,475.16 1138.3,477.88 1138.6,481.33 1138.9,480.59 1139.2,485.4 1139.5,479.73 1139.8,476.79 1140.1,472.11 1140.4,469.87 1140.7,468.84 1141,463.7 1141.3,460.95 1141.6,455.09 1141.9,451.55 1142.21,450.21 1142.52,450.45 1142.83,449.45 1143.13,448.98 1143.44,443.86 1143.75,446.16 1144.03,445.13 1144.31,441.49 1144.59,437.03 1144.88,436.46 1145.16,433.06 1145.44,432.14 1145.72,434.07 1146,430.57 1146.28,431.76 1146.56,433.38 1146.84,434.94 1147.12,434.33 1147.41,435.29 1147.69,436.28 1147.97,437.58 1148.25,438 1148.53,435.63 1148.81,430.38 1149.09,429.93 1149.38,426.03 1149.66,424.8 1149.94,418.55 1150.22,416.16 1150.5,412.59 1150.78,415.02 1151.06,414.34 1151.34,411.59 1151.62,408.69 1151.91,409.65 1152.19,408.05 1152.47,405.48 1152.75,402.49 1153.03,405.06 1153.31,408.03 1153.59,409.84 1153.88,412.76 1154.16,416.21 1154.44,420.07 1154.72,417.84 1155,422.85 1155.28,417.76 1155.56,415.83 1155.84,417.08 1156.12,413.52 1156.41,412.96 1156.69,408.16 1156.97,403.57 1157.25,403.16 1157.53,403.76 1157.81,405.09 1158.09,404.84 1158.38,401.75 1158.66,400.95 1158.94,398.87 1159.22,401.22 1159.5,398.5 1159.78,399.13 1160.06,399.36 1160.34,400.24 1160.62,404.71 1160.91,402.72 1161.19,408.05 1161.47,404.42 1161.75,409.42 1162.03,403.7 1162.31,401.24 1162.59,403.02 1162.88,398.66 1163.16,399.34 1163.44,394.62 1163.72,392.04 1164,393.92 1164.28,392.2 1164.56,391.54 1164.84,389.48 1165.12,384.71 1165.41,386.14 1165.69,385.15 1165.97,382.45 1166.25,383.5 1166.53,381.38 1166.81,386.48 1167.09,386.6 1167.38,384.33 1167.66,385.76 1167.94,390.47 1168.22,392.74 1168.5,390.31 1168.78,392.46 1169.06,395.57 1169.34,393.58 1169.62,398.13 1169.91,397.12 1170.19,395.84 1170.47,398.37 1170.75,400.39 1171.03,400.62 1171.31,402.79 1171.59,400.97 1171.88,405.3 1172.16,403.98 1172.44,406.38 1172.72,407.24 1173,407.07 1173.28,404.09 1173.56,403.36 1173.84,401.38 1174.12,397.73 1174.41,393.78 1174.69,389.55 1174.97,385.53 1175.25,387.46 1175.53,384.18 1175.81,382.95 1176.09,378.5 1176.38,378.05 1176.66,378.11 1176.94,375.47 1177.22,372.4 1177.5,369 1177.78,368.22 1178.06,369.21 1178.34,365.14 1178.62,365.34 1178.91,363.5 1179.19,363.62 1179.47,361.76 1179.75,357.62 1180.03,357.1 1180.31,359.39 1180.59,361.16 1180.88,362.95 1181.16,365.08 1181.44,366.39 1181.72,362.93 1182,367.98 1182.28,370.21 1182.56,372.85 1182.84,373.66 1183.12,374.45 1183.41,379.79 1183.69,381.91 1183.97,383.62 1184.25,387.15 1184.53,386.08 1184.81,386.59 1185.09,390.9 1185.38,394.05 1185.66,392.82 1185.94,397.55 1186.22,400.37 1186.5,398.62 1186.8,394.56 1187.1,388.92 1187.4,381.82 1187.7,374.47 1188,368.72 1188.32,366.93 1188.63,362.77 1188.95,356.67 1189.27,350.36 1189.58,349.72 1189.9,345.17 1190.2,340.9 1190.5,341.25 1190.8,341.44 1191.1,339.92 1191.4,336.57 1191.7,334.88 1192.03,332.14 1192.35,326.73 1192.67,323.43 1193,320.04 1193.3,319.4 1193.6,314.29 1193.9,311.99 1194.2,307.79 1194.47,299.52 1194.73,288.74 1195,279.33 1195.3,242.59 1195.55,233.1 1195.8,225.45 1196.05,232.79 1196.3,238.19 1196.65,249.06 1197,265.51 1197.25,260.04 1197.5,256.8 1197.75,270.86 1198,287.57 1198.35,300.9 1198.7,308.6 1199.03,304.96 1199.37,303.72 1199.7,300.46 1200,316.45 1200.3,327.91 1200.63,323.96 1200.97,316.36 1201.3,309.96 1201.6,309.06 1201.9,303.72 1202.2,300.95 1202.5,300.15 1202.8,296.69 1203.1,292.84 1203.4,289.32 1203.7,288.6 1204.03,288.03 1204.37,283.68 1204.7,284.03 1205.03,274.93 1205.37,261.63 1205.7,255.51 1206.03,250.03 1206.37,244.16 1206.7,244.09 1206.97,245.44 1207.23,252.04 1207.5,257.43 1207.77,264.07 1208.03,267.58 1208.3,271.7" fill="none" stroke="#b50c13" stroke-width="2.5" stroke-linejoin="round"/>
<polyline points="678,296.94 678.29,297.23 678.57,295.73 678.86,299.92 679.14,300.06 679.43,296.05 679.71,295.1 680,296.23 680.31,299.23 680.62,304.59 680.94,307.1 681.25,309.25 681.56,307.64 681.88,313.99 682.19,316.09 682.5,318.26 682.81,322.52 683.12,320.19 683.44,323.15 683.75,328.83 684.06,328.53 684.38,325.92 684.69,322.7 685,322.98 685.31,322.59 685.62,317.95 685.94,317.83 686.25,316.24 686.56,314.3 686.88,314.9 687.19,312.03 687.5,311.14 687.8,308.77 688.1,309.67 688.4,304.34 688.7,306.13 689,301.54 689.3,298.84 689.6,301.6 689.9,296.05 690.2,297.88 690.5,295.66 690.81,300.3 691.12,300.94 691.44,307.07 691.75,309.78 692.06,318.64 692.38,322.72 692.69,326.14 693,329.75 693.29,331.31 693.57,335.97 693.86,336.31 694.14,339.24 694.43,338.86 694.71,341.41 695,342.69 695.3,348.36 695.6,349.78 695.9,349.9 696.2,355.93 696.5,355.04 696.8,358.04 697.1,358.96 697.4,361.81 697.7,367.02 698,366.64 698.3,365.32 698.59,366.54 698.89,365.19 699.18,367.78 699.48,363.22 699.77,367.26 700.07,362.01 700.36,365.92 700.66,364.28 700.95,361.45 701.25,362.38 701.55,365.25 701.84,368.97 702.14,372.54 702.43,377.25 702.73,384.37 703.02,388.27 703.32,391.76 703.61,391.32 703.91,396.18 704.2,403.2 704.5,402.7 704.8,402.68 705.1,396.93 705.4,396.99 705.7,388.48 706,389.1 706.3,383.17 706.6,378.63 706.9,374.41 707.2,375.23 707.5,370.14 707.81,365.45 708.12,363.83 708.44,363.39 708.75,356.87 709.06,355.79 709.38,350.62 709.69,347.92 710,348.07 710.31,344.85 710.62,339.26 710.94,335.73 711.25,332.85 711.56,334.52 711.88,332.89 712.19,330.7 712.5,329.3 712.81,330.38 713.12,329.83 713.44,329.33 713.75,327.1 714.06,324.08 714.38,322.32 714.69,324.75 715,322.02 715.31,321.78 715.62,316.44 715.94,318.49 716.25,314.14 716.56,314.9 716.88,313.15 717.19,309.34 717.5,304.98 717.81,307.76 718.12,303.63 718.44,303.81 718.75,298.78 719.06,299.62 719.38,304.22 719.69,303.06 720,303.25 720.31,305.58 720.62,307.99 720.94,306.17 721.25,310.1 721.56,308.78 721.88,308.21 722.19,305.22 722.5,307.37 722.81,306.96 723.12,306.28 723.44,302.51 723.75,303.6 724.06,299.7 724.38,299.43 724.69,293.66 725,295.69 725.31,293.92 725.62,289.35 725.94,287.26 726.25,285.16 726.56,286.76 726.88,285.63 727.19,292.12 727.5,289.81 727.81,291.16 728.12,292.31 728.44,294.64 728.75,299.15 729.06,291.93 729.38,289.15 729.69,289.16 730,283.41 730.31,279.37 730.62,279.27 730.94,276.02 731.25,272.62 731.56,275.74 731.88,274.81 732.19,280.98 732.5,282.38 732.81,281.07 733.12,283.66 733.44,287.78 733.75,290 734.06,291.67 734.38,293.66 734.69,297.95 735,299.36 735.31,304.54 735.62,308.75 735.94,307.85 736.25,312.88 736.56,315.03 736.88,313.25 737.19,317.95 737.5,319.78 737.81,318.17 738.12,319.59 738.44,323.02 738.75,322.63 739.06,317.89 739.38,316.67 739.69,311.75 740,305.41 740.31,300.84 740.62,297.27 740.94,293.73 741.25,292.5 741.56,293.15 741.88,295.27 742.19,296.33 742.5,298.06 742.81,295.49 743.12,299.47 743.44,303.32 743.75,304.76 744.06,304.32 744.38,308.35 744.69,312.56 745,314.3 745.31,318.29 745.62,319.01 745.94,324.03 746.25,327.52 746.56,327.51 746.88,330.62 747.19,337.44 747.5,338.94 747.81,342.27 748.12,343.19 748.44,346.61 748.75,349.5 749.06,353.56 749.38,353.2 749.69,360.42 750,362.53 750.31,368.74 750.62,370.7 750.94,376.16 751.25,382.21 751.56,375.94 751.88,369.33 752.19,366.04 752.5,360.91 752.81,358.91 753.12,350.77 753.44,346.18 753.75,343.27 754.06,338.96 754.38,339.87 754.69,340.18 755,336.32 755.31,333.48 755.62,332.95 755.94,331.74 756.25,328.17 756.56,330.23 756.88,332.46 757.19,335.49 757.5,338.26 757.81,339.84 758.12,341.79 758.44,343.17 758.75,347.74 759.06,348.02 759.38,345.57 759.69,344.11 760,343.28 760.31,339.7 760.62,341.09 760.94,338.55 761.25,337.75 761.56,336.84 761.88,334.84 762.19,332.76 762.5,331.16 762.81,329.8 763.12,330.06 763.44,328.14 763.75,327.95 764.06,323.71 764.38,324.23 764.69,325.63 765,321.14 765.31,321.75 765.62,320.37 765.94,318.26 766.25,320.87 766.56,316.23 766.88,317.67 767.19,313.43 767.5,311.91 767.81,315.06 768.12,311.77 768.44,308.76 768.75,309.42 769.06,306.56 769.38,304.97 769.69,298.59 770,296.07 770.31,301.45 770.62,301.87 770.94,300.39 771.25,302.9 771.56,304.55 771.88,307.79 772.19,309.04 772.5,311.82 772.81,312.61 773.12,311.97 773.44,314.05 773.75,315.02 774.06,316.04 774.38,315.5 774.69,318.04 775,318.58 775.31,321.84 775.62,319.94 775.94,325.99 776.25,323.67 776.56,329.82 776.88,331.07 777.19,332.8 777.5,337.41 777.81,334.75 778.12,333.32 778.44,334.6 778.75,334.44 779.06,332.43 779.38,330.62 779.69,330.38 780,329.78 780.31,331.78 780.62,330.17 780.94,331.31 781.25,332.79 781.56,332.52 781.88,332.82 782.19,335.87 782.5,336.82 782.81,333.44 783.12,331.58 783.44,328.67 783.75,327.73 784.06,325.34 784.38,326.02 784.69,324.49 785,320.36 785.31,323.43 785.62,319.08 785.94,320.54 786.25,319.26 786.56,318.64 786.88,313.46 787.19,313.37 787.5,314.63 787.81,307.14 788.12,304.52 788.44,304.4 788.75,301.24 789.06,300.62 789.38,297.05 789.69,293.01 790,292.59 790.29,287.59 790.57,285.09 790.86,283.46 791.14,279.43 791.43,276.76 791.71,275.49 792,271.73 792.29,277.69 792.57,279.13 792.86,281.2 793.14,281.84 793.43,286.13 793.71,289.13 794,292.82 794.28,291.95 794.56,292.6 794.84,292.1 795.12,288.68 795.41,287.5 795.69,287.52 795.97,288.52 796.25,284.19 796.56,286.72 796.88,289.77 797.19,287.98 797.5,290.3 797.81,295.3 798.12,296.07 798.44,296 798.75,295.47 799.06,298.61 799.38,296.61 799.69,296.35 800,296.3 800.31,294.83 800.62,291.46 800.94,289.15 801.25,288.91 801.56,289.75 801.88,289.4 802.19,287.44 802.5,287.1 802.81,289.11 803.12,288.66 803.44,287.05 803.75,290.07 804.06,287.58 804.38,283.87 804.69,285.16 805,286.5 805.31,283.37 805.62,284.74 805.94,280.55 806.25,281.48 806.56,283.65 806.88,281.7 807.19,281.5 807.5,278.42 807.81,279.36 808.12,279.03 808.44,276.91 808.75,278.26 809.06,277.98 809.38,280.71 809.69,278.82 810,278.29 810.31,277.09 810.62,277.59 810.94,281.04 811.25,277.95 811.56,279.17 811.88,280.79 812.19,283.87 812.5,286.68 812.81,286.84 813.12,289.09 813.44,286.47 813.75,287.46 814.06,292.97 814.38,292.2 814.69,295.81 815,295.49 815.31,296.09 815.62,298.16 815.94,298.85 816.25,304.6 816.56,303.87 816.88,303.59 817.19,305.05 817.5,305.66 817.81,304.87 818.12,310.16 818.44,309.49 818.75,312.39 819.06,310.94 819.38,313.12 819.69,312.45 820,312.63 820.31,318.49 820.62,319.34 820.94,317.79 821.25,322.07 821.54,326.64 821.83,328.98 822.12,335.53 822.42,342.39 822.71,344.98 823,352.34 823.29,349.02 823.57,350.14 823.86,352.21 824.14,349.98 824.43,350.79 824.71,354.09 825,352.42 825.31,350.58 825.62,344.29 825.94,340.49 826.25,338.01 826.56,333.68 826.88,334.33 827.19,327.35 827.5,325.32 827.81,321.75 828.12,322.68 828.44,320.66 828.75,319.5 829.06,316.49 829.38,315.54 829.69,317.94 830,314.23 830.31,316.17 830.62,318.39 830.94,321.37 831.25,323.63 831.56,325.08 831.88,330.85 832.19,331.68 832.5,333.21 832.81,333.88 833.12,328.51 833.44,327.24 833.75,327.99 834.06,322.13 834.38,321.58 834.69,321.44 835,319.09 835.31,316.35 835.62,317.99 835.94,320.53 836.25,319.36 836.56,323.01 836.88,319.73 837.19,324.22 837.5,322.53 837.81,321.71 838.12,323.5 838.44,322.46 838.75,326.07 839.06,324.38 839.38,328.33 839.69,327.33 840,326.81 840.31,325.56 840.62,326.81 840.94,324.13 841.25,326.94 841.56,322.41 841.88,323.82 842.19,323.35 842.5,321.31 842.81,324.85 843.12,323.78 843.44,326.13 843.75,326.6 844.06,326.2 844.38,327.55 844.69,326.91 845,328.32 845.31,329.95 845.62,325.32 845.94,325.22 846.25,320.47 846.56,320.95 846.88,318.03 847.19,316.88 847.5,313.94 847.81,313.68 848.12,315.89 848.44,316.39 848.75,316.81 849.06,320.81 849.38,319.49 849.69,321.06 850,324.63 850.31,324.55 850.62,325.74 850.94,326.25 851.25,323.09 851.56,324.46 851.88,323.8 852.19,327.81 852.5,328.35 852.81,325.79 853.12,325.17 853.44,325.51 853.75,324.79 854.06,321.5 854.38,323.68 854.69,320.17 855,320.67 855.31,319.59 855.62,320.5 855.94,325.9 856.25,326.22 856.56,327.36 856.88,325.11 857.19,326.36 857.5,328.24 857.81,327.49 858.12,327.1 858.44,326.57 858.75,323.85 859.06,324.33 859.38,325.09 859.69,321.77 860,324.27 860.31,323.18 860.62,324.25 860.94,322.16 861.25,323.41 861.56,325.02 861.88,323.59 862.19,322.09 862.5,326.74 862.81,326.13 863.12,323.26 863.44,321.69 863.75,325.59 864.06,324 864.38,320.77 864.69,321.48 865,320.48 865.29,323.14 865.58,319.23 865.87,322.02 866.16,320.28 866.45,315.95 866.74,318.23 867.03,315.79 867.32,316.75 867.61,316.29 867.9,312.56 868.19,311.86 868.48,316.6 868.77,314.17 869.06,317.1 869.35,316.15 869.64,316.68 869.93,317.45 870.22,316.69 870.51,316.06 870.8,314.28 871.09,318.51 871.38,317.99 871.67,319.3 871.96,322.35 872.25,319.06 872.54,323.24 872.83,320.39 873.12,324.69 873.41,326.11 873.7,324.16 874,326.5 874.3,329.56 874.6,328.7 874.9,329.07 875.2,328.4 875.5,328.27 875.8,330.68 876.1,331.82 876.4,331.59 876.7,333.01 876.99,333.87 877.28,338.6 877.57,340.17 877.86,339.68 878.15,341.46 878.44,344.64 878.73,346.03 879.02,350.35 879.31,349.07 879.6,350.56 879.89,354.19 880.18,350.92 880.47,353.7 880.76,353.09 881.05,356.19 881.34,355.39 881.63,357.08 881.92,354.6 882.21,357.78 882.5,358.01 882.79,359.35 883.08,362.98 883.37,365.37 883.66,363.7 883.95,366.65 884.24,369.07 884.53,370.32 884.82,371.61 885.11,374.81 885.4,376.42 885.69,379.91 885.98,379.45 886.27,378.57 886.56,380.53 886.85,382.14 887.14,382.45 887.43,382.29 887.72,382.65 888.01,383.2 888.3,389.16 888.6,389 888.9,386.64 889.2,391.03 889.5,393.5 889.8,392.43 890.1,391.17 890.4,394.24 890.7,395.06 890.99,392.32 891.28,392.7 891.56,388.46 891.85,391.73 892.14,388.84 892.42,387.29 892.71,387.43 893,384.49 893.29,380.77 893.58,379.11 893.87,376.92 894.16,374.71 894.44,376.96 894.73,375.67 895.02,371.21 895.31,369 895.6,369.72 895.89,370.52 896.18,370.66 896.47,366.44 896.76,369.36 897.05,369.32 897.34,368.58 897.63,366.14 897.92,365.12 898.21,368.17 898.5,365.26 898.79,366.1 899.08,367.63 899.37,367.26 899.66,370.24 899.95,367.74 900.24,367.29 900.53,370.61 900.82,371.51 901.11,373.08 901.4,373.07 901.7,371.61 902,369.31 902.3,364.47 902.6,362 902.9,357.72 903.2,355.96 903.5,354.92 903.79,353.42 904.08,357.68 904.36,356.05 904.65,358.6 904.94,362.44 905.22,358.97 905.51,359.81 905.8,362.99 906.09,361.11 906.38,363.3 906.67,358.97 906.96,362.75 907.25,362.25 907.54,361.31 907.83,358.85 908.12,357.53 908.41,358.92 908.7,357.58 908.99,357.67 909.28,357.82 909.57,358.92 909.86,360.68 910.15,362.1 910.44,363.08 910.73,359.82 911.02,361.08 911.31,362.42 911.6,363.63 911.9,364.26 912.2,365.22 912.5,366.39 912.8,369.38 913.1,371.84 913.4,376.25 913.7,377.68 914,379.2 914.3,381.52 914.6,383.2 914.89,383.46 915.18,386.5 915.47,384.63 915.76,389.88 916.05,391.57 916.34,391.98 916.63,395.45 916.92,399.47 917.21,399.06 917.5,401.97 917.79,400.74 918.08,401.55 918.37,404.94 918.66,401.06 918.95,402.48 919.24,405.61 919.53,404.99 919.82,403.68 920.11,407.25 920.4,406.33 920.69,406.26 920.98,404.25 921.27,403.68 921.56,402.7 921.85,400.66 922.14,398.03 922.43,397.22 922.72,399.75 923.01,396.81 923.3,393.38 923.58,396.88 923.87,393.32 924.15,392.09 924.43,393.96 924.72,392.11 925,392.94 925.29,394.38 925.58,393.78 925.86,396.68 926.15,395.39 926.44,398.57 926.72,400.06 927.01,398.52 927.3,401.32 927.6,398.32 927.9,398.97 928.2,399.92 928.5,397.03 928.8,396.63 929.1,395.59 929.4,391 929.69,396.81 929.97,396.67 930.26,394.7 930.54,399.75 930.83,398.72 931.11,398.83 931.4,404.19 931.7,403.58 932,406.13 932.3,404.26 932.6,409.04 932.9,406.75 933.2,409.13 933.5,411.29 933.8,410.88 934.09,415.35 934.38,414.83 934.66,416.75 934.95,420.33 935.24,420.33 935.52,424.2 935.81,424.27 936.1,427.04 936.4,429.08 936.7,434.57 937,437.98 937.3,437.97 937.58,436.11 937.87,429.14 938.15,426.47 938.43,421.17 938.72,417.06 939,408.54 939.3,407.75 939.6,407.56 939.9,406.57 940.2,403.31 940.5,397.7 940.8,398.53 941.1,393.82 941.39,395.31 941.67,395.79 941.96,391.36 942.24,394.74 942.53,392.6 942.81,389.57 943.1,388.4 943.39,388.64 943.67,389.58 943.96,387.16 944.25,383.64 944.54,382.07 944.83,381.45 945.11,383.95 945.4,379.66 945.7,383.41 946,383.86 946.3,387.75 946.6,387.98 946.9,388.58 947.2,394.2 947.5,394.27 947.8,396.89 948.09,397.92 948.37,399.06 948.66,394.61 948.94,396.74 949.23,396.16 949.51,398.39 949.8,400.74 950.09,402.7 950.38,401.06 950.67,404.17 950.96,409.82 951.25,411.43 951.54,412.28 951.83,415.05 952.12,415.74 952.41,421.65 952.7,421.65 953,422.68 953.3,419.86 953.6,415.61 953.9,415.47 954.2,413.42 954.5,415.49 954.8,412.44 955.1,408.15 955.4,407.34 955.7,406.88 955.99,407.72 956.28,408.58 956.57,407.89 956.86,408 957.15,406.48 957.44,409.75 957.73,408.77 958.02,407.43 958.31,410 958.6,413.03 958.89,407.85 959.18,408.08 959.47,410.52 959.76,408.16 960.05,407.87 960.34,408.76 960.63,407.23 960.92,408.54 961.21,408.04 961.5,409.98 961.79,409.58 962.08,404.02 962.37,406.18 962.66,406.69 962.95,406.64 963.24,405.55 963.53,404.23 963.82,403.66 964.11,401.67 964.4,400.66 964.69,401.58 964.98,400.22 965.27,398.8 965.56,395.7 965.85,391.98 966.14,392.61 966.43,390.73 966.72,387.77 967.01,386.66 967.3,383.42 967.6,382.42 967.9,379.63 968.2,375.79 968.5,375.19 968.8,373.08 969.1,374.5 969.4,369.82 969.7,367.19 970,364.51 970.3,362.42 970.59,360.93 970.87,357.73 971.16,354.98 971.44,357.39 971.73,353.13 972.01,351 972.3,349.56 972.59,347.81 972.88,346.75 973.16,345.86 973.45,346.72 973.74,346.39 974.02,348.2 974.31,346.93 974.6,348.57 974.9,344.74 975.2,347.03 975.5,344.54 975.8,341.2 976.1,340.98 976.4,342.34 976.7,343.72 977,339.72 977.3,341.16 977.6,338.63 977.89,341.83 978.17,338.58 978.46,341.66 978.75,344.73 979.04,342.4 979.33,343.21 979.61,342.91 979.9,344.56 980.19,344.73 980.48,346.64 980.76,343.75 981.05,344.33 981.34,342.93 981.62,344.66 981.91,345.66 982.2,344.17 982.5,342.79 982.8,346.55 983.1,348.71 983.4,347.79 983.7,346.05 984,350.81 984.3,352.12 984.6,350.31 984.9,350.21 985.19,351.36 985.48,354.05 985.77,356.69 986.06,356.35 986.35,358.7 986.64,355.88 986.93,357.36 987.22,360.44 987.51,360.79 987.8,360.41 988.09,362.7 988.38,361.8 988.67,361.21 988.96,363.93 989.25,362.89 989.54,366.78 989.83,366.13 990.12,367.83 990.41,369.24 990.7,368.34 990.99,370.58 991.28,369.41 991.57,375.32 991.86,374.61 992.15,377.99 992.44,374.31 992.73,378.38 993.02,380.13 993.31,379.24 993.6,379.19 993.9,379.1 994.2,378.61 994.5,381.45 994.8,377.51 995.1,380.86 995.4,378.42 995.7,378.6 995.99,377.76 996.28,376.49 996.56,375.92 996.85,374.53 997.14,372.02 997.42,373.05 997.71,369.44 998,370.7 998.29,370.55 998.57,370.21 998.86,367.37 999.14,369.36 999.43,370.01 999.71,366.87 1000,365.55 1000.31,367.61 1000.63,370.56 1000.94,367.14 1001.26,367.29 1001.57,370.5 1001.89,372.22 1002.2,373.63 1002.51,370.25 1002.82,372.28 1003.13,367.09 1003.44,368.6 1003.76,363.9 1004.07,362.35 1004.38,361.66 1004.69,360.05 1005,361.11 1005.31,361.23 1005.62,359.13 1005.93,362.92 1006.24,359.78 1006.56,358.5 1006.87,358.49 1007.18,361.25 1007.49,362.05 1007.8,357.94 1008.11,357.72 1008.42,362.08 1008.73,359.76 1009.04,364.07 1009.36,362.03 1009.67,363.21 1009.98,362.16 1010.29,365 1010.6,363.69 1010.9,362.36 1011.2,364.75 1011.5,359.99 1011.8,362.62 1012.1,358.53 1012.4,360.92 1012.7,359.03 1013,360.82 1013.3,356.01 1013.61,358.33 1013.92,357.23 1014.23,359.58 1014.54,359.41 1014.86,357.46 1015.17,355.07 1015.48,354.91 1015.79,354.66 1016.1,355.26 1016.41,352.6 1016.73,350.86 1017.04,352.15 1017.36,349.94 1017.67,346.55 1017.99,348.57 1018.3,342.93 1018.59,343.2 1018.88,339.49 1019.16,341.6 1019.45,340.07 1019.74,335.38 1020.02,336.33 1020.31,335.14 1020.6,330.77 1020.91,331.62 1021.23,333.02 1021.54,335.73 1021.86,332.54 1022.17,335.85 1022.49,336.01 1022.8,335.86 1023.11,336.11 1023.43,337.29 1023.74,333.39 1024.06,336.49 1024.37,333.37 1024.69,335.16 1025,335.19 1025.31,332.27 1025.62,336.44 1025.93,337.74 1026.24,334.74 1026.56,333.94 1026.87,335.01 1027.18,340.12 1027.49,335.73 1027.8,341.04 1028.11,335.7 1028.42,337.35 1028.73,332.64 1029.04,331.62 1029.36,332.91 1029.67,328.44 1029.98,328.34 1030.29,329.97 1030.6,327.53 1030.9,328.85 1031.2,329.83 1031.5,325.37 1031.8,326.89 1032.1,330.25 1032.4,330.19 1032.7,327.26 1033,330.16 1033.3,329.2 1033.61,330.54 1033.92,329.15 1034.23,329 1034.54,334.35 1034.86,331.15 1035.17,334.37 1035.48,330.73 1035.79,332.93 1036.1,331.41 1036.41,332.77 1036.72,331.32 1037.03,333.8 1037.34,330.85 1037.66,333.76 1037.97,332.37 1038.28,330.2 1038.59,331.29 1038.9,331.88 1039.21,334.39 1039.52,331.74 1039.83,331.35 1040.14,335.58 1040.46,335.45 1040.77,334.97 1041.08,332.9 1041.39,332.71 1041.7,333.48 1042,332.3 1042.3,332.01 1042.6,334.28 1042.9,333.6 1043.2,334.22 1043.5,333.05 1043.8,331.07 1044.1,334.43 1044.4,334.1 1044.71,333.23 1045.02,332.95 1045.33,333.39 1045.64,334.61 1045.96,333.75 1046.27,332.63 1046.58,330.68 1046.89,329.95 1047.2,330.18 1047.51,332.59 1047.82,329.08 1048.13,328.6 1048.44,328.27 1048.76,326.41 1049.07,330.39 1049.38,324.76 1049.69,327.43 1050,328.62 1050.31,326.11 1050.63,328.95 1050.94,328.72 1051.26,328.99 1051.57,329.76 1051.89,330.32 1052.2,335.08 1052.51,336.76 1052.83,339.4 1053.14,336.91 1053.46,342.25 1053.77,342.32 1054.09,345.97 1054.4,347.45 1054.69,347.63 1054.98,352.43 1055.26,348.77 1055.55,354.03 1055.84,355.98 1056.12,355.58 1056.41,357.39 1056.7,360.87 1057.01,360.1 1057.33,365.34 1057.64,369.12 1057.96,370.41 1058.27,375.33 1058.59,376.86 1058.9,380.74 1059.21,379.2 1059.53,377.55 1059.84,373.72 1060.16,373.33 1060.47,370.9 1060.79,367.25 1061.1,367.29 1061.41,365.08 1061.73,368.03 1062.04,365.36 1062.36,366.25 1062.67,364.81 1062.99,364.18 1063.3,362.45 1063.59,361 1063.88,364.05 1064.16,360.94 1064.45,359.87 1064.74,358.86 1065.02,359.3 1065.31,355.28 1065.6,353.9 1065.91,357.66 1066.23,356.16 1066.54,357.49 1066.86,358.85 1067.17,359.58 1067.49,359.83 1067.8,355.92 1068.11,356.5 1068.43,357.66 1068.74,356.4 1069.06,351.6 1069.37,350.57 1069.69,349.89 1070,347.93 1070.31,349.05 1070.63,351.18 1070.94,349.51 1071.26,348.95 1071.57,346.86 1071.89,348.26 1072.2,351.18 1072.51,350.61 1072.83,350.34 1073.14,351.49 1073.46,354.15 1073.77,354.95 1074.09,352.78 1074.4,356.54 1074.7,357.33 1075,360.55 1075.3,361.5 1075.6,364.61 1075.9,366.87 1076.2,369.5 1076.5,370.03 1076.8,373.4 1077.1,377.75 1077.4,377.5 1077.71,379 1078.03,382.68 1078.34,381.24 1078.66,382.37 1078.97,382.81 1079.29,386.77 1079.6,383.77 1079.9,384.85 1080.2,384.25 1080.5,379.08 1080.8,378.47 1081.1,378.63 1081.4,375.97 1081.7,372.93 1082.01,370.85 1082.33,372.55 1082.64,371.78 1082.95,373.21 1083.26,370.66 1083.58,370.87 1083.89,371.75 1084.2,372.22 1084.5,372.88 1084.8,376.1 1085.1,380.16 1085.4,385.01 1085.7,384.25 1086,391.35 1086.3,393.05 1086.6,394.34 1086.91,397.18 1087.23,396.74 1087.54,396.71 1087.86,401.59 1088.17,400.94 1088.49,403.02 1088.8,404.18 1089.1,404.12 1089.4,401.19 1089.7,395.22 1090,396 1090.3,393.15 1090.6,390.97 1090.9,390.77 1091.2,390.08 1091.5,391.91 1091.8,395.6 1092.1,394.79 1092.4,396.58 1092.7,398.21 1093,401.36 1093.3,402.09 1093.61,400.54 1093.92,396.86 1094.24,393.07 1094.55,394.49 1094.86,391.92 1095.17,391.12 1095.49,389.22 1095.8,383.91 1096.1,383.3 1096.4,381.4 1096.7,384.1 1097,379.23 1097.3,378.01 1097.6,380.32 1097.9,378.18 1098.2,374.39 1098.51,378.03 1098.83,378.57 1099.14,377.77 1099.45,375.93 1099.76,379.63 1100.08,378.6 1100.39,379.85 1100.7,382.39 1101,380.3 1101.3,379.43 1101.6,374.51 1101.9,374.34 1102.2,374.14 1102.5,370.33 1102.8,374.29 1103.1,369.43 1103.41,371.28 1103.72,373.45 1104.04,375.06 1104.35,380.12 1104.66,380.45 1104.97,382.13 1105.29,383.57 1105.6,383.57 1105.9,387.43 1106.2,392.91 1106.5,395.12 1106.8,397.95 1107.1,397.39 1107.4,399.65 1107.7,402.94 1108,409.52 1108.3,412.74 1108.6,417.28 1108.9,421.48 1109.2,426.04 1109.53,432.55 1109.85,442.47 1110.17,446.99 1110.5,458.38 1110.8,465.67 1111.1,472.22 1111.4,482.76 1111.7,493.07 1112,501.59 1112.3,511.57 1112.6,519.48 1112.9,508.02 1113.2,499.54 1113.5,485.72 1113.83,481.77 1114.15,476.12 1114.47,468.9 1114.8,462.06 1115.1,462.1 1115.4,457.09 1115.7,456.89 1116,450.16 1116.3,449.66 1116.6,453.18 1116.9,452.57 1117.2,459.27 1117.5,457.61 1117.8,462.8 1118.1,457.59 1118.4,458.4 1118.7,453.47 1119,451.66 1119.3,447.04 1119.6,444.9 1119.92,442.36 1120.23,437.83 1120.55,434.85 1120.87,435.56 1121.18,429.41 1121.5,430.87 1121.8,425.65 1122.1,423.57 1122.4,422.02 1122.7,424.08 1123,423.42 1123.3,419.11 1123.6,418.85 1123.9,415.24 1124.21,417.07 1124.53,414.39 1124.84,410.09 1125.15,408.04 1125.46,409.83 1125.78,404.89 1126.09,407.49 1126.4,403.13 1126.7,400.91 1127,400.83 1127.3,397.56 1127.6,396.91 1127.9,392.9 1128.2,394.94 1128.5,389.99 1128.8,390.77 1129.12,384.62 1129.43,385.42 1129.75,383.8 1130.07,378.17 1130.38,373.74 1130.7,372.98 1131,375.87 1131.3,375.24 1131.6,378.45 1131.9,377.64 1132.2,381.1 1132.5,384.01 1132.8,384 1133.1,386.83 1133.4,383.13 1133.7,386.08 1134,381.65 1134.3,385.05 1134.6,384.67 1134.9,383.61 1135.2,380.7 1135.5,378.71 1135.81,378.62 1136.12,380.33 1136.44,378.62 1136.75,380.49 1137.06,375.75 1137.38,377.4 1137.69,378.98 1138,377.21 1138.29,377.56 1138.57,375.86 1138.86,376.78 1139.14,378.11 1139.43,381.99 1139.71,382.4 1140,379.83 1140.28,380.65 1140.56,373.19 1140.84,373.33 1141.12,372.43 1141.41,366.38 1141.69,366.69 1141.97,362.38 1142.25,356.41 1142.53,355.54 1142.81,353.8 1143.09,350.41 1143.38,350.64 1143.66,345.36 1143.94,346.18 1144.22,341.29 1144.5,337.76 1144.78,338.9 1145.06,335.08 1145.34,336.05 1145.62,335.87 1145.91,333.47 1146.19,331.36 1146.47,327.73 1146.75,328.82 1147.03,325.25 1147.31,326.7 1147.59,322.62 1147.88,323.53 1148.16,320.95 1148.44,319.66 1148.72,319.75 1149,315.75 1149.28,315.31 1149.56,318.86 1149.84,315.22 1150.12,317.4 1150.41,317.1 1150.69,314.58 1150.97,312.39 1151.25,311.64 1151.53,315.25 1151.81,310.82 1152.09,312.32 1152.38,312.06 1152.66,309.42 1152.94,310.77 1153.22,308.72 1153.5,310.18 1153.78,309.57 1154.06,308.37 1154.34,307.02 1154.62,307.62 1154.91,306.11 1155.19,305.25 1155.47,305.37 1155.75,308.18 1156.03,304.38 1156.31,304.53 1156.59,298.1 1156.88,301.06 1157.16,296.81 1157.44,296.51 1157.72,293.49 1158,292.23 1158.28,288.9 1158.56,290.68 1158.84,286.64 1159.12,286.27 1159.41,284.12 1159.69,285.07 1159.97,284.78 1160.25,282.67 1160.53,287.66 1160.81,285.34 1161.09,289.78 1161.38,289.87 1161.66,293.62 1161.94,296.48 1162.22,297.97 1162.5,296.47 1162.78,299.3 1163.06,303.02 1163.34,306.89 1163.62,303.86 1163.91,308.74 1164.19,311 1164.47,313.51 1164.75,312.93 1165.03,313.96 1165.31,310.74 1165.59,311.72 1165.88,305.58 1166.16,309.01 1166.44,304.85 1166.72,303.42 1167,300.36 1167.28,303.05 1167.56,307.47 1167.84,309.05 1168.12,308.19 1168.41,311.07 1168.69,311.88 1168.97,314.06 1169.25,316.04 1169.53,314.28 1169.81,315.29 1170.09,313.05 1170.38,309.64 1170.66,305.68 1170.94,303.42 1171.22,302.55 1171.5,300.87 1171.78,301 1172.06,301.33 1172.34,300 1172.62,303.15 1172.91,305.24 1173.19,305.87 1173.47,303.19 1173.75,307.38 1174.06,306.83 1174.38,307.22 1174.69,312.76 1175,312.6 1175.28,309.64 1175.57,303.14 1175.85,303.41 1176.13,300.64 1176.42,297.14 1176.7,292.97 1177.03,292.18 1177.35,290.77 1177.67,288.42 1178,286.36 1178.3,283.79 1178.6,278.98 1178.9,274.83 1179.2,267.25 1179.47,274.05 1179.75,275.16 1180.03,280.67 1180.3,279.7 1180.58,281.46 1180.86,277.83 1181.14,272.37 1181.42,272.74 1181.7,266.91 1181.97,262.86 1182.23,260.35 1182.5,255.33 1182.77,262.19 1183.03,269.89 1183.3,274.26 1183.58,276.73 1183.86,277.42 1184.14,281.8 1184.42,284.19 1184.7,285.95 1184.97,290.62 1185.25,293.34 1185.53,294.49 1185.8,296.15 1186.1,294.94 1186.4,291.75 1186.7,285.02 1187,282.19 1187.33,284.7 1187.65,285.72 1187.97,282.87 1188.3,286.64 1188.58,285.85 1188.86,288 1189.14,293.3 1189.42,292.92 1189.7,295.54 1189.97,296.45 1190.25,297.49 1190.53,298.54 1190.8,300.94 1191.1,304.32 1191.4,303.97 1191.7,303.09 1192,302.86 1192.33,297.14 1192.67,292.71 1193,284.7 1193.3,280.84 1193.6,276.6 1193.9,268.03 1194.2,265.95 1194.47,257.05 1194.73,255.55 1195,246.66 1195.27,242.68 1195.53,241.81 1195.8,234.28 1196.1,236.89 1196.4,243.68 1196.7,245.55 1197,250.35 1197.33,244.85 1197.65,242.5 1197.97,241.97 1198.3,236.74 1198.58,238.56 1198.86,233.73 1199.14,236.38 1199.42,232.22 1199.7,233.44 1199.97,229.05 1200.25,228.31 1200.53,230.66 1200.8,226.46 1201.1,230.51 1201.4,229.8 1201.7,232.53 1201.97,236.22 1202.23,243.57 1202.5,250.18 1202.77,255.04 1203.03,260.99 1203.3,270.53 1203.58,272.35 1203.86,273.16 1204.14,272.09 1204.42,276.94 1204.7,278.01 1204.97,278.18 1205.25,272.58 1205.53,271.64 1205.8,268.99 1206.1,264.75 1206.4,262.62 1206.7,260.52 1207,258.82 1207.33,261.12 1207.67,264.86 1208,272.48 1208.33,271.6 1208.67,279.54 1209,281.7" fill="none" stroke="#f4bc14" stroke-width="2.5" stroke-linejoin="round"/>
<text transform="translate(679.5,595.5) rotate(-45)" font-size="9.3" fill="#959595" text-anchor="end">2010/1</text>
<text transform="translate(722.05,595.5) rotate(-45)" font-size="9.3" fill="#959595" text-anchor="end">2011/1</text>
<text transform="translate(764.6,595.5) rotate(-45)" font-size="9.3" fill="#959595" text-anchor="end">2012/1</text>
<text transform="translate(807.15,595.5) rotate(-45)" font-size="9.3" fill="#959595" text-anchor="end">2013/1</text>
<text transform="translate(849.7,595.5) rotate(-45)" font-size="9.3" fill="#959595" text-anchor="end">2014/1</text>
<text transform="translate(892.25,595.5) rotate(-45)" font-size="9.3" fill="#959595" text-anchor="end">2015/1</text>
<text transform="translate(934.8,595.5) rotate(-45)" font-size="9.3" fill="#959595" text-anchor="end">2016/1</text>
<text transform="translate(977.35,595.5) rotate(-45)" font-size="9.3" fill="#959595" text-anchor="end">2017/1</text>
<text transform="translate(1019.9,595.5) rotate(-45)" font-size="9.3" fill="#959595" text-anchor="end">2018/1</text>
<text transform="translate(1062.45,595.5) rotate(-45)" font-size="9.3" fill="#959595" text-anchor="end">2019/1</text>
<text transform="translate(1105,595.5) rotate(-45)" font-size="9.3" fill="#959595" text-anchor="end">2020/1</text>
<text transform="translate(1147.55,595.5) rotate(-45)" font-size="9.3" fill="#959595" text-anchor="end">2021/1</text>
<text transform="translate(1190.1,595.5) rotate(-45)" font-size="9.3" fill="#959595" text-anchor="end">2022/1</text>
</g>
<g id="txt">
<text x="31" y="64" font-size="25" fill="#fff9ea" textLength="250" lengthAdjust="spacing" font-weight="bold">三、基本面-通胀数据</text>
<text x="322" y="64.5" font-size="25.5" fill="#111" textLength="480" lengthAdjust="spacing" font-weight="600">高通胀尚未见顶，通胀预期仍旧高位震荡</text>
<text x="65" y="146.5" font-size="18" fill="#111" textLength="258" lengthAdjust="spacing" font-weight="bold">2018-2022 美国通胀情况（%）</text>
<text x="668" y="144.5" font-size="18" fill="#111" textLength="226" lengthAdjust="spacing" font-weight="bold">通胀预期与布伦特原油价格</text>
<line x1="355" y1="147.5" x2="385" y2="147.5" stroke="#f4c023" stroke-width="3"/><circle cx="370" cy="147.5" r="3.3" fill="#f4c023"/>
<text x="388" y="151.3" font-size="10" fill="#333" textLength="90.5" lengthAdjust="spacing">美国:PCE:当月同比</text>
<line x1="479" y1="147.5" x2="509" y2="147.5" stroke="#b30d0d" stroke-width="3"/><circle cx="494" cy="147.5" r="3.3" fill="#b30d0d"/>
<text x="511" y="151.3" font-size="10" fill="#333" textLength="112" lengthAdjust="spacing">美国:CPI:季调:当月同比</text>
<line x1="903" y1="154.5" x2="930" y2="154.5" stroke="#b50c13" stroke-width="2"/>
<text x="934" y="158" font-size="10" fill="#333" textLength="130" lengthAdjust="spacing">现货价:原油:英国布伦特Dtd</text>
<line x1="1065" y1="154.5" x2="1092" y2="154.5" stroke="#f4bc14" stroke-width="2"/>
<text x="1096" y="158" font-size="10" fill="#333" textLength="134.5" lengthAdjust="spacing">TIPS隐含10y盈亏平衡通胀率</text>
<text x="60" y="652" font-size="12" fill="#222" textLength="97" lengthAdjust="spacing">数据来源：&#160;Wind</text>
<text x="660" y="652" font-size="12" fill="#222" textLength="97" lengthAdjust="spacing">数据来源：&#160;Wind</text>
<g transform="translate(1171,57) scale(1.18,1)"><text x="0" y="0" font-size="15.5" fill="#1a1a1a" textLength="66.95" lengthAdjust="spacing" font-weight="bold" style="font-family:'Liberation Sans',sans-serif">三立期货</text></g>
<text x="1171" y="70.4" font-size="7" fill="#222" textLength="77.5" lengthAdjust="spacing" font-weight="bold" style="font-family:'Liberation Sans',sans-serif">SANLI FUTURES</text>
</g>
</svg>
</body>
</html>
